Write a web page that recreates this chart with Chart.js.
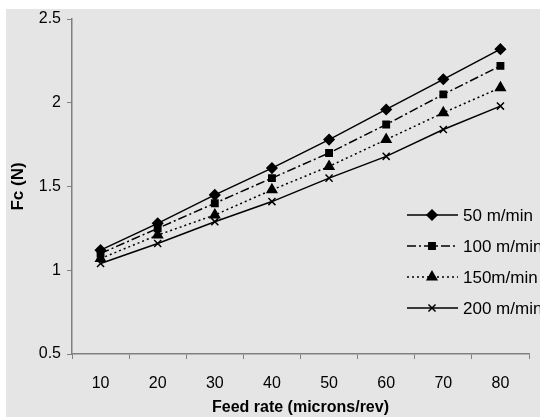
<!DOCTYPE html>
<html>
<head>
<meta charset="utf-8">
<script src="https://cdn.jsdelivr.net/npm/chart.js@4.4.1/dist/chart.umd.min.js"></script>
<style>
  body { margin: 0; background: #fff; }
</style>
</head>
<body>
<canvas id="fc-chart" width="540" height="417"></canvas>
<script>
const feedRates = ['10', '20', '30', '40', '50', '60', '70', '80'];
const speedLabels = ['50 m/min', '100 m/min', '150m/min', '200 m/min'];

// cutting force Fc (N) for each cutting speed
const fc50 = [1.12, 1.28, 1.45, 1.61, 1.78, 1.96, 2.14, 2.32];
const fc100 = [1.10, 1.25, 1.40, 1.55, 1.70, 1.87, 2.05, 2.22];
const fc150 = [1.07, 1.21, 1.33, 1.48, 1.62, 1.78, 1.94, 2.09];
const fc200 = [1.04, 1.16, 1.29, 1.41, 1.55, 1.68, 1.84, 1.98];

const yTicks = [0.5, 1, 1.5, 2, 2.5];

const FONT = '"Liberation Sans", Arial, sans-serif';

// grey panel behind the plot
const panelBg = {
  id: 'panelBg',
  beforeDraw(chart) {
    const ctx = chart.ctx;
    ctx.save();
    ctx.fillStyle = '#e5e5e5';
    ctx.fillRect(6, 9, chart.width - 6, chart.height - 9);
    ctx.restore();
  }
};

// legend drawn as line samples with the marker in the middle
const lineLegend = {
  id: 'lineLegend',
  afterDraw(chart) {
    const ctx = chart.ctx;
    chart.data.datasets.forEach((ds, i) => {
      const y = 215 + i * 31;
      ctx.save();
      ctx.strokeStyle = '#000';
      ctx.fillStyle = '#000';
      ctx.lineWidth = ds.borderWidth;
      ctx.setLineDash(ds.borderDash || []);
      ctx.beginPath();
      ctx.moveTo(407, y);
      ctx.lineTo(458, y);
      ctx.stroke();
      ctx.setLineDash([]);
      ctx.lineWidth = 1.5;
      Chart.helpers.drawPoint(ctx, {
        pointStyle: ds.pointStyle, radius: ds.pointRadius, rotation: 0, borderWidth: 1.5
      }, 432, y);
      ctx.font = '17px ' + FONT;
      ctx.textBaseline = 'middle';
      ctx.fillText(ds.label, 463, y + 1);
      ctx.restore();
    });
  }
};

const makeSet = (label, data, style, radius, dash) => ({
  label: label,
  data: data,
  borderColor: '#000',
  backgroundColor: '#000',
  borderWidth: 1.5,
  borderDash: dash,
  pointStyle: style,
  pointRadius: radius,
  pointBorderWidth: 1.5,
  tension: 0
});

const ctx = document.getElementById('fc-chart').getContext('2d');
const chart = new Chart(ctx, {
  type: 'line',
  data: {
    labels: feedRates,
    datasets: [
      makeSet(speedLabels[0], fc50, 'rectRot', 5, []),
      makeSet(speedLabels[1], fc100, 'rect', 4.5, [9, 3, 2, 3]),
      makeSet(speedLabels[2], fc150, 'triangle', 5.5, [2, 3]),
      makeSet(speedLabels[3], fc200, 'crossRot', 5, [])
    ]
  },
  options: {
    responsive: false,
    animation: false,
    devicePixelRatio: 1,
    layout: { padding: { top: 19, right: 11, left: 0, bottom: 0 } },
    plugins: {
      legend: { display: false },
      tooltip: { enabled: false }
    },
    scales: {
      x: {
        offset: true,
        grid: { offset: true, drawOnChartArea: false, drawTicks: true, tickLength: 5, color: '#808080' },
        border: { color: '#808080', width: 1.5 },
        ticks: { color: '#000', font: { family: FONT, size: 16 }, padding: 15, maxRotation: 0 },
        title: { display: true, text: 'Feed rate (microns/rev)', color: '#000', font: { family: FONT, size: 16, weight: 'bold' }, padding: { top: 0, bottom: 0 } },
        afterFit: (scale) => { scale.height = 63; }
      },
      y: {
        min: 0.5,
        max: 2.5,
        afterBuildTicks: (scale) => { scale.ticks = yTicks.map((v) => ({ value: v })); },
        grid: { drawOnChartArea: false, drawTicks: true, tickLength: 5, color: '#808080' },
        border: { color: '#808080', width: 1.5 },
        ticks: { color: '#000', font: { family: FONT, size: 16 }, padding: 6, callback: (v) => String(v) },
        title: { display: true, text: 'Fc (N)', color: '#000', font: { family: FONT, size: 17, weight: 'bold' }, padding: { top: 8, bottom: 0 } },
        afterFit: (scale) => { scale.width = 72; }
      }
    }
  },
  plugins: [panelBg, lineLegend]
});
</script>
</body>
</html>
